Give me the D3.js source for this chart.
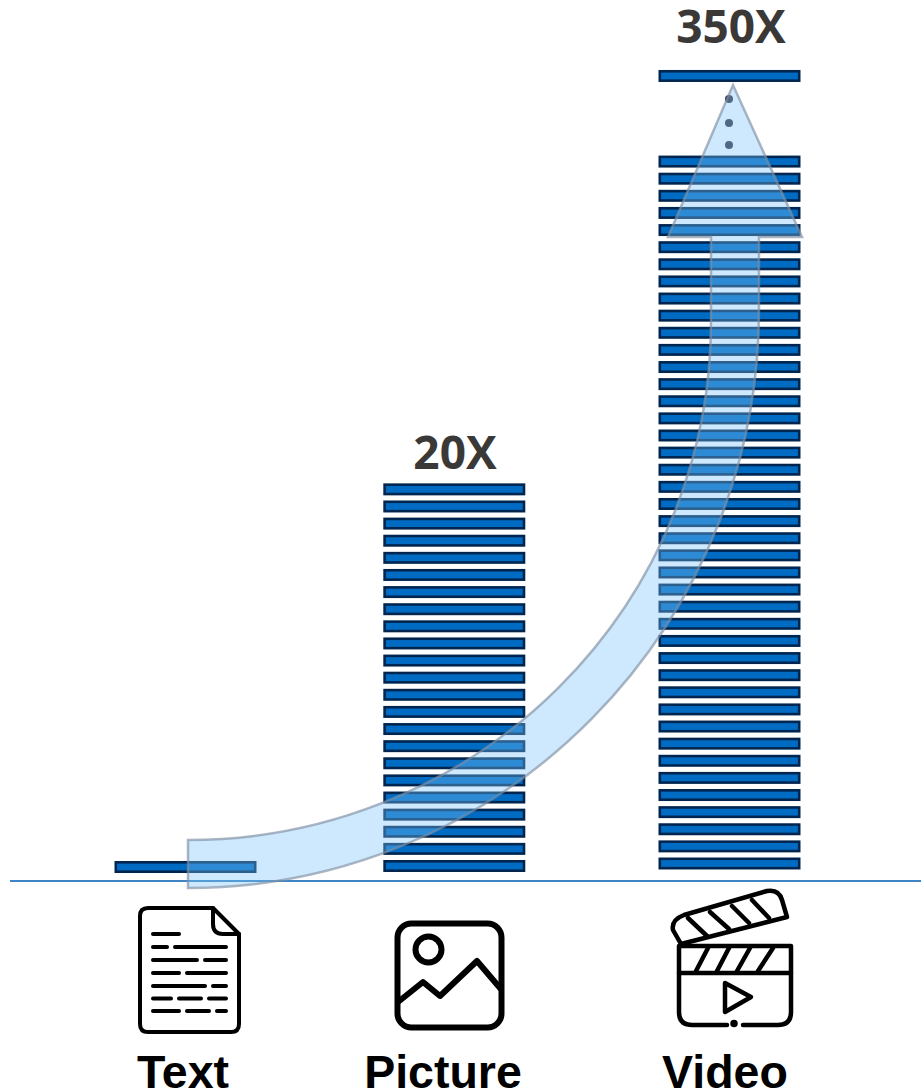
<!DOCTYPE html>
<html>
<head>
<meta charset="utf-8">
<script src="https://cdn.jsdelivr.net/npm/d3@7"></script>
<style>
html, body { margin: 0; padding: 0; background: #fff; overflow: hidden; }
</style>
</head>
<body>
<div id="chart"></div>
<script>
var categories = ["Text", "Picture", "Video"];
var multipliers = ["", "20X", "350X"];
var stackedBars = [1, 23, 42];
var extraBarSlots = [[], [], [46]];

var width = 921, height = 1091;
var barWidth = 142, barHeight = 12, barStroke = 2.6, slotHeight = 17.12;

var x = d3.scaleOrdinal().domain(categories).range([185.5, 454.3, 729.5]);
var baseY = d3.scaleOrdinal().domain(categories).range([867, 866, 863.5]);
var slotY = d3.scaleLinear().domain([0, 1]).range([0, -slotHeight]);

var svg = d3.select("#chart").append("svg")
    .attr("width", width)
    .attr("height", height)
    .style("display", "block");

var bars = [];
categories.forEach(function(c, i) {
    d3.range(stackedBars[i]).concat(extraBarSlots[i]).forEach(function(s) {
        bars.push({ cat: c, slot: s });
    });
});

svg.selectAll("rect.bar").data(bars).enter().append("rect")
    .attr("class", "bar")
    .attr("x", function(d) { return x(d.cat) - barWidth / 2 + barStroke / 2; })
    .attr("y", function(d) { return baseY(d.cat) + slotY(d.slot) - barHeight / 2 + barStroke / 2; })
    .attr("width", barWidth - barStroke)
    .attr("height", barHeight - barStroke)
    .attr("fill", "#006bc2")
    .attr("stroke", "#00264f")
    .attr("stroke-width", barStroke);

// dots between the stack and the lone top bar
svg.selectAll("circle.gap").data([99, 123, 145]).enter().append("circle")
    .attr("class", "gap")
    .attr("cx", 729)
    .attr("cy", function(d) { return d; })
    .attr("r", 4)
    .attr("fill", "#373441");

svg.append("line")
    .attr("x1", 10).attr("x2", width)
    .attr("y1", 881).attr("y2", 881)
    .attr("stroke", "#3f85c5")
    .attr("stroke-width", 2);

// growth arrow: two elliptical edges, then a straight shaft and the head
var arrowPath = "M188,840A523,518 0 0 0 711,322L711,237L668,237L733,85L802,237L759,237L759,310" +
    "A571,578 0 0 1 188,888Z";

svg.append("path")
    .attr("d", arrowPath)
    .attr("fill", "rgba(123,195,250,0.37)")
    .attr("stroke", "#7f8fa3")
    .attr("stroke-opacity", 0.65)
    .attr("stroke-width", 2.5)
    .attr("stroke-linejoin", "miter");

svg.selectAll("text.mult").data(categories).enter().append("text")
    .attr("class", "mult")
    .attr("x", function(d) { return d === "Video" ? 731 : 455; })
    .attr("y", function(d) { return d === "Video" ? 43 : 469; })
    .attr("text-anchor", "middle")
    .style("font-family", "'Open Sans'")
    .style("font-weight", 700)
    .style("font-size", "46px")
    .attr("fill", "#3b3838")
    .text(function(d, i) { return multipliers[i]; });

var labelX = [183, 443, 725];
svg.selectAll("text.cat").data(categories).enter().append("text")
    .attr("class", "cat")
    .attr("x", function(d, i) { return labelX[i]; })
    .attr("y", 1088)
    .attr("text-anchor", "middle")
    .style("font-family", "'Liberation Sans'")
    .style("font-weight", 700)
    .style("font-size", "46.5px")
    .attr("fill", "#000")
    .text(function(d) { return d; });

function stroke(g, w) {
    return g.attr("fill", "none").attr("stroke", "#000").attr("stroke-width", w)
        .attr("stroke-linecap", "round").attr("stroke-linejoin", "round");
}

// document icon
var doc = stroke(svg.append("g"), 4);
doc.append("path").attr("d", "M213,908H148Q140,908 140,916V1024Q140,1032 148,1032H231Q239,1032 239,1024V934Z");
doc.append("path").attr("d", "M213,908V924Q213,934 223,934H239");
var docLines = [
    [934, 153, 179],
    [947, 153, 167], [947, 175, 226],
    [960, 153, 197], [960, 205, 226],
    [973, 153, 179], [973, 187, 226],
    [986, 153, 205], [986, 213, 226],
    [998.5, 153, 171], [998.5, 179, 201], [998.5, 209, 226],
    [1011, 153, 179], [1011, 187, 209], [1011, 217, 226]
];
doc.selectAll("line").data(docLines).enter().append("line")
    .attr("x1", function(d) { return d[1]; })
    .attr("x2", function(d) { return d[2]; })
    .attr("y1", function(d) { return d[0]; })
    .attr("y2", function(d) { return d[0]; });

// picture icon
var pic = stroke(svg.append("g"), 6);
pic.append("rect").attr("x", 397.5).attr("y", 923.5).attr("width", 104).attr("height", 104).attr("rx", 14);
pic.append("circle").attr("cx", 428.5).attr("cy", 949.5).attr("r", 13);
pic.append("path").attr("d", "M398,1002L423,982L440,996L477,961L500,988");

// clapper icon
var clap = stroke(svg.append("g"), 4.5);
clap.append("path").attr("d", "M679,946H791V1012Q791,1025 778,1025H743M727,1025H692Q679,1025 679,1012V946");
clap.append("path").attr("d", "M679,973H791");
clap.append("path").attr("d", "M696,971L708,948M717,971L729,948M737,971L750,948M758,971L773,948");
clap.append("path").attr("d", "M681,944L787,917L782,900Q779,889 767,891L684,915Q671,920 673,930Z");
clap.append("path").attr("d", "M688,918L707,936M710,912L729,929M732,906L749,923M752,900L769,918");
clap.append("path").attr("d", "M725,983L751,997L725,1012Z");
clap.append("circle").attr("cx", 734).attr("cy", 1023.5).attr("r", 1.5).attr("fill", "#000");
</script>
</body>
</html>
